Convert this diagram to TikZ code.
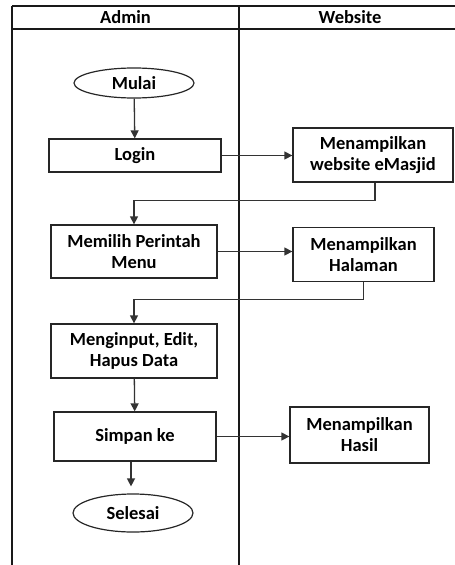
\documentclass[tikz,border=0pt]{standalone}
\usepackage{fontspec}
\setmainfont{Carlito}
\usetikzlibrary{arrows.meta,shapes.geometric}
\begin{document}
\begin{tikzpicture}[x=1pt,y=-1pt,
  lane/.style={line width=1.4pt,draw=black!90},
  box/.style={draw=black!85,line width=1.3pt,rectangle,align=center,inner sep=0pt,font=\bfseries\fontsize{18.5}{21}\selectfont,text=black},
  term/.style={draw=black!85,line width=1.2pt,ellipse,inner sep=0pt,font=\bfseries\fontsize{18.5}{21}\selectfont,text=black},
  hdr/.style={font=\bfseries\fontsize{18.5}{21}\selectfont,text=black},
  arr/.style={line width=1.3pt,draw=black!80,-{Triangle[length=8pt,width=8pt]}}]
\useasboundingbox (0,0) rectangle (455,565);
% swimlane frame
\coordinate (tl) at (12,6);
\coordinate (tr) at (455,6);
\coordinate (hl) at (12,29);
\coordinate (hr) at (455,29);
\coordinate (bl) at (12,565);
\coordinate (dt) at (239,6);
\coordinate (db) at (239,565);
\draw[lane] (tl) -- (tr);
\draw[lane] (hl) -- (hr);
\draw[lane] (tl) -- (bl);
\draw[lane] (dt) -- (db);
\node[hdr] (hadmin) at (125.5,17.5) {Admin};
\node[hdr] (hweb) at (350,17.5) {Website};
% nodes
\node[term,minimum width=120,minimum height=30] (mulai) at (134,83) {Mulai};
\node[box,minimum width=172,minimum height=33] (login) at (135,155.5) {Login};
\node[box,minimum width=160,minimum height=54] (web1) at (373,155) {Menampilkan\\website eMasjid};
\node[box,minimum width=166,minimum height=53] (memilih) at (134,251.5) {Memilih Perintah\\Menu};
\node[box,minimum width=141,minimum height=54] (halaman) at (363.5,254.7) {Menampilkan\\Halaman};
\node[box,minimum width=166,minimum height=54] (input) at (134,351) {Menginput, Edit,\\Hapus Data};
\node[box,minimum width=162,minimum height=49] (simpan) at (135,436.5) {Simpan ke};
\node[box,minimum width=139,minimum height=56] (hasil) at (359.5,435) {Menampilkan\\Hasil};
\node[term,minimum width=120,minimum height=38] (selesai) at (133,513) {Selesai};
% connectors
\draw[arr] (mulai) -- (login);
\draw[arr] (login.east) -- (web1.west |- login.east);
\draw[arr] ([xshift=2pt]web1.south) -- ++(0,18) -| (memilih.north);
\draw[arr] (memilih.east) -- (halaman.west |- memilih.east);
\draw[arr] (halaman.south) -- ++(0,17) -| (input.north);
\draw[arr] (input) -- (simpan);
\draw[arr] (simpan.east) -- (hasil.west |- simpan.east);
\draw[arr,shorten >=7pt] ([xshift=-4pt]simpan.south) -- ([xshift=-2pt]selesai.north);
\end{tikzpicture}
\end{document}
